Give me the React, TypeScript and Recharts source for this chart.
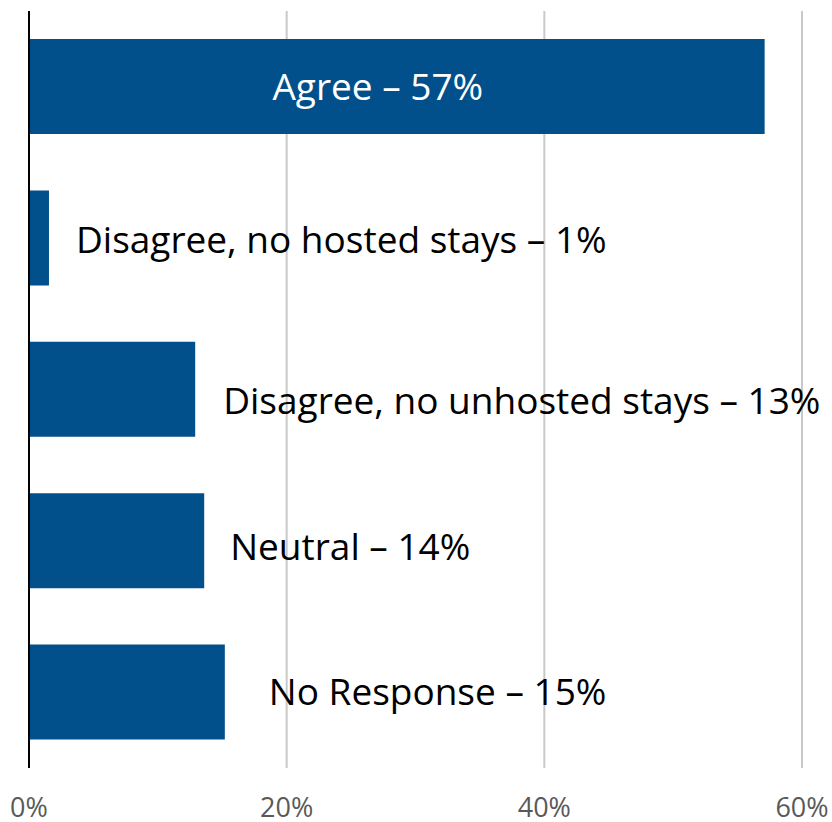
import { Bar, BarChart, CartesianGrid, LabelList, XAxis, YAxis } from "recharts";

const categories = [
    "Agree",
    "Disagree, no hosted stays",
    "Disagree, no unhosted stays",
    "Neutral",
    "No Response",
];
const shares = [57.1, 1.55, 12.9, 13.6, 15.2];
const shareLabels = ["57%", "1%", "13%", "14%", "15%"];
const xTicks = [0, 20, 40, 60];

const data = categories.map((name, i) => ({
    name,
    value: shares[i],
    label: `${name} – ${shareLabels[i]}`,
}));

// labels were nudged by hand in the original, so each one gets its own shift
const labelNudge = [
    { dx: -19, dy: 0, inside: true },
    { dx: 27, dy: 2, inside: false },
    { dx: 28, dy: 11, inside: false },
    { dx: 26, dy: 6, inside: false },
    { dx: 44, dy: 0, inside: false },
];

const FONT = "'Open Sans', sans-serif";

function BarLabel(props: any) {
    const { x, y, width, height, value } = props;
    const i = data.findIndex((d) => d.label === value);
    const nudge = labelNudge[i] ?? { dx: 20, dy: 0, inside: false };
    const cy = Number(y) + Number(height) / 2 + nudge.dy;
    if (nudge.inside) {
        return (
            <text
                x={Number(x) + Number(width) / 2 + nudge.dx}
                y={cy}
                dy="0.36em"
                textAnchor="middle"
                fill="#ffffff"
                fontSize={37}
                fontFamily={FONT}
            >
                {value}
            </text>
        );
    }
    return (
        <text
            x={Number(x) + Number(width) + nudge.dx}
            y={cy}
            dy="0.36em"
            textAnchor="start"
            fill="#000000"
            fontSize={37}
            fontFamily={FONT}
        >
            {value}
        </text>
    );
}

export default function App() {
    return (
        <div style={{ position: "absolute", left: 0, top: 0, width: 832, height: 822, background: "#fff" }}>
            <BarChart
                width={832}
                height={822}
                data={data}
                layout="vertical"
                barCategoryGap="18.5%"
                margin={{ top: 11, right: 30, left: 0, bottom: 0 }}
            >
                <CartesianGrid horizontal={false} stroke="#c9c9c9" strokeWidth={2} />
                <XAxis
                    type="number"
                    domain={[0, 60]}
                    ticks={xTicks}
                    interval={0}
                    tickFormatter={(v: number) => `${v}%`}
                    tick={{ fill: "#595959", fontSize: 27, fontFamily: FONT }}
                    axisLine={false}
                    tickLine={false}
                    tickSize={0}
                    tickMargin={30}
                    height={54}
                />
                <YAxis
                    type="category"
                    dataKey="name"
                    width={29}
                    tick={false}
                    tickLine={false}
                    axisLine={{ stroke: "#000000", strokeWidth: 2 }}
                />
                <Bar dataKey="value" fill="#01508b" isAnimationActive={false}>
                    <LabelList dataKey="label" content={<BarLabel />} />
                </Bar>
            </BarChart>
        </div>
    );
}
